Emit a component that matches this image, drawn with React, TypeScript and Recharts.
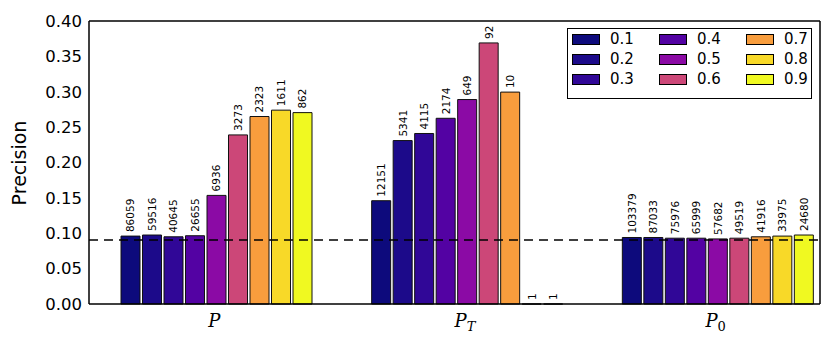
import { BarChart, Bar, XAxis, YAxis, ReferenceLine, LabelList } from 'recharts';

const groups = ['P', 'P_T', 'P_0'];
const thresholds = ['0.1', '0.2', '0.3', '0.4', '0.5', '0.6', '0.7', '0.8', '0.9'];
const colors = ['#0d0a7c', '#1c0a8a', '#300797', '#5302a3', '#8b0aa5', '#cc4778', '#f89d3d', '#f8d928', '#f0f921'];

const precisionP = [0.096, 0.0975, 0.095, 0.0965, 0.1535, 0.239, 0.265, 0.274, 0.2705];
const precisionPT = [0.146, 0.231, 0.241, 0.2625, 0.289, 0.369, 0.2995, 0, 0];
const precisionP0 = [0.094, 0.094, 0.093, 0.093, 0.092, 0.093, 0.095, 0.096, 0.0975];

const countsP = [86059, 59516, 40645, 26655, 6936, 3273, 2323, 1611, 862];
const countsPT = [12151, 5341, 4115, 2174, 649, 92, 10, 1, 1];
const countsP0 = [103379, 87033, 75976, 65999, 57682, 49519, 41916, 33975, 24680];

const baseline = 0.0905;
const yTicks = [0, 0.05, 0.1, 0.15, 0.2, 0.25, 0.3, 0.35, 0.4];

const series = [precisionP, precisionPT, precisionP0];
const counts = [countsP, countsPT, countsP0];
const data = groups.map((g, gi) => {
  const row: Record<string, string | number> = { group: g };
  thresholds.forEach((_, i) => {
    row['v' + i] = series[gi][i];
    row['n' + i] = counts[gi][i];
  });
  return row;
});

const sans = "'DejaVu Sans', sans-serif";

const CountLabel = (props: any) => {
  const { x, y, width, value } = props;
  const cx = x + width / 2;
  const ty = y - 4;
  return (
    <text x={cx} y={ty} transform={`rotate(-90 ${cx} ${ty})`} textAnchor="start"
      dominantBaseline="central" fontSize={10.5} fontFamily={sans} fill="#000">
      {value}
    </text>
  );
};

const GroupTick = (props: any) => {
  const { x, y, payload } = props;
  const [base, sub] = String(payload.value).split('_');
  const subItalic = sub && !/\d/.test(sub);
  return (
    <text x={x} y={y + 21} textAnchor="middle" fontFamily="'DejaVu Serif', serif" fontStyle="italic" fontSize={18} fill="#000">
      {base}
      {sub && <tspan dy={4} fontSize={13} fontStyle={subItalic ? 'italic' : 'normal'}>{sub}</tspan>}
    </text>
  );
};

function LegendBox() {
  return (
    <div style={{ position: 'absolute', left: 567, top: 28, width: 243, height: 69, border: '1.5px solid #000', background: '#fff' }}>
      {thresholds.map((t, i) => {
        const col = Math.floor(i / 3);
        const row = i % 3;
        return (
          <div key={t} style={{ position: 'absolute', left: 4 + col * 87, top: 4 + row * 20, display: 'flex', alignItems: 'center', height: 12 }}>
            <div style={{ width: 26, height: 9, background: colors[i], border: '1.5px solid #000' }} />
            <span style={{ marginLeft: 10, fontFamily: sans, fontSize: 15, lineHeight: '12px' }}>{t}</span>
          </div>
        );
      })}
    </div>
  );
}

export default function App() {
  return (
    <div style={{ position: 'fixed', left: 0, top: 0, width: 831, height: 343, background: '#fff' }}>
      <BarChart width={831} height={343} data={data} margin={{ top: 20, right: 11, left: 0, bottom: 0 }}
        barCategoryGap={32} barGap={2.5}>
        <XAxis dataKey="group" height={39} padding={{ left: 0, right: -21 }} tick={GroupTick}
          tickLine={false} tickSize={0} axisLine={{ stroke: '#000', strokeWidth: 1.5 }} />
        <XAxis xAxisId="top" dataKey="group" orientation="top" height={1} tick={false} tickLine={false}
          axisLine={{ stroke: '#000', strokeWidth: 1.5 }} />
        <YAxis domain={[0, 0.4]} ticks={yTicks} width={89} tickFormatter={(v: number) => v.toFixed(2)}
          tickLine={false} tickSize={0} tickMargin={7} axisLine={{ stroke: '#000', strokeWidth: 1.5 }}
          tick={{ fill: '#000', fontSize: 16.5, fontFamily: sans }} />
        <YAxis yAxisId="lt" domain={[0, 0.4]} ticks={yTicks} mirror width={0} tick={false} tickSize={5}
          tickLine={{ stroke: '#000' }} axisLine={false} />
        <YAxis yAxisId="r" orientation="right" domain={[0, 0.4]} ticks={yTicks} mirror width={1} tick={false}
          tickSize={5} tickLine={{ stroke: '#000' }} axisLine={{ stroke: '#000', strokeWidth: 1.5 }} />
        {thresholds.map((t, i) => (
          <Bar key={t} dataKey={'v' + i} name={t} fill={colors[i]} stroke="#111" strokeWidth={1}
            minPointSize={0.01} isAnimationActive={false}>
            <LabelList dataKey={'n' + i} content={CountLabel} />
          </Bar>
        ))}
        <ReferenceLine xAxisId="top" y={baseline} stroke="#000" strokeWidth={1.5} strokeDasharray="9 6" />
        <text x={19} y={163} transform="rotate(-90 19 163)" textAnchor="middle" dominantBaseline="central"
          fontSize={19} fontFamily={sans} fill="#000">Precision</text>
      </BarChart>
      <LegendBox />
    </div>
  );
}
